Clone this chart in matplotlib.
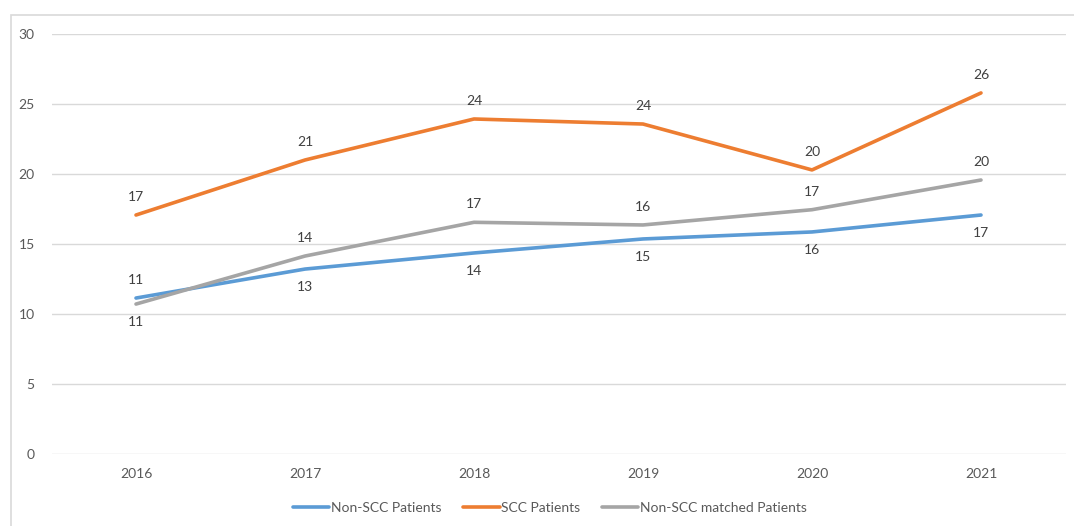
import matplotlib
matplotlib.use("Agg")
import matplotlib.pyplot as plt
from matplotlib.patches import Rectangle

years = ["2016", "2017", "2018", "2019", "2020", "2021"]
non_scc = [11.14, 13.21, 14.36, 15.36, 15.86, 17.07]
scc = [17.07, 21.0, 23.93, 23.57, 20.29, 25.79]
non_scc_matched = [10.71, 14.14, 16.55, 16.36, 17.45, 19.57]

plt.rcParams['font.family'] = ['Lato', 'DejaVu Sans']

fig = plt.figure(figsize=(10.74, 5.26), dpi=100)
ax = fig.add_axes([51.5 / 1074, 72 / 526, 1014 / 1074, 420 / 526])

# outer chart frame
fig.patches.append(Rectangle((11 / 1074, -0.1), 1.2, (511 / 526) + 0.1,
                             transform=fig.transFigure, fill=False,
                             edgecolor='#d9d9d9', linewidth=1.2))

x = range(len(years))
series = [
    ("Non-SCC Patients", non_scc, '#5b9bd5', [1, -1, -1, -1, -1, -1]),
    ("SCC Patients", scc, '#ed7d31', [1, 1, 1, 1, 1, 1]),
    ("Non-SCC matched Patients", non_scc_matched, '#a5a5a5', [-1, 1, 1, 1, 1, 1]),
]
for name, vals, col, sides in series:
    ax.plot(x, vals, color=col, linewidth=2.6, label=name, solid_capstyle='round')
    for xi, v, s in zip(x, vals, sides):
        ax.annotate(f"{round(v)}", (xi, v), xytext=(0, 13 * s), textcoords='offset points',
                    ha='center', va='center', fontsize=10, color='#404040')

ax.set_xlim(-0.5, 5.5)
ax.set_ylim(0, 30)
ax.set_yticks(range(0, 31, 5))
ax.set_xticks(list(x))
ax.set_xticklabels(years)
ax.grid(axis='y', color='#d9d9d9', linewidth=1)
ax.set_axisbelow(True)
for sp in ax.spines.values():
    sp.set_visible(False)
ax.tick_params(length=0, labelsize=10, labelcolor='#595959')
ax.tick_params(axis='y', pad=12)
ax.tick_params(axis='x', pad=10)

ax.legend(loc='center', bbox_to_anchor=(550 / 1074, 18 / 526), bbox_transform=fig.transFigure,
          ncol=3, frameon=False, fontsize=10, handlelength=2.6, handletextpad=0.1,
          columnspacing=1.6, labelcolor='#595959')

fig.savefig("out.png", dpi=100)
